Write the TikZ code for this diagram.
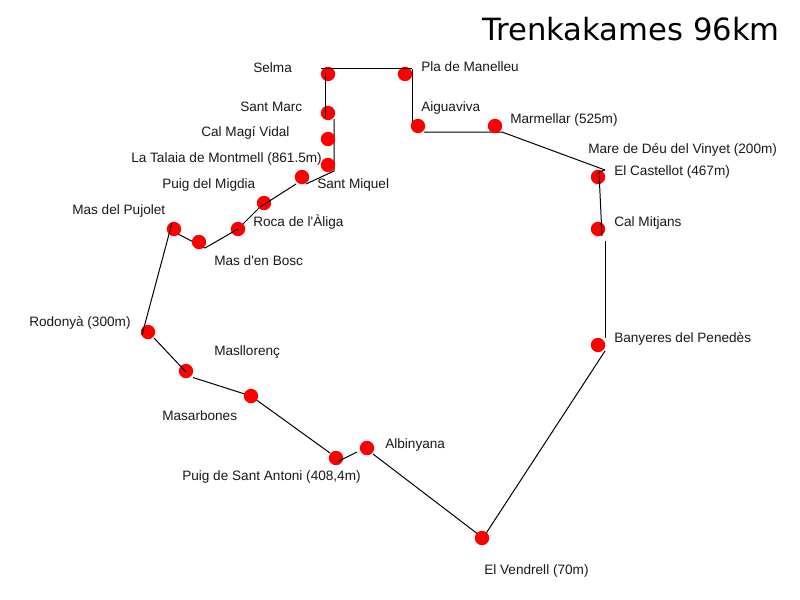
\documentclass[tikz,border=0pt]{standalone}
\usepackage{fontspec}
\newfontfamily\labfont{Liberation Sans}
\newfontfamily\titlefont{DejaVu Sans}
\begin{document}
\begin{tikzpicture}[x=0.75pt,y=-0.75pt,
  stop/.style={circle,fill=red,draw=none,minimum size=10.8pt,inner sep=0pt},
  lab/.style={anchor=base west,inner sep=0pt,font=\labfont\fontsize{10.2pt}{12pt}\selectfont,text=black!90},
  ttl/.style={anchor=base west,inner sep=0pt,font=\titlefont\fontsize{23pt}{27pt}\selectfont},
  seg/.style={draw=black,line width=0.75pt}]
\useasboundingbox (0,0) rectangle (800,600);
\fill[white] (0,0) rectangle (800,600);
% line vertices
\coordinate (a0) at (321,68.5);
\coordinate (a1) at (412,68.5);
\coordinate (a2) at (412,122);
\coordinate (b1) at (424,132);
\coordinate (b2) at (502,132);
\coordinate (b3) at (605,170);
\coordinate (b4) at (599,172);
\coordinate (b5) at (602,236);
\coordinate (c1) at (605.7,241);
\coordinate (c2) at (605.7,338);
\coordinate (c2b) at (605,351);
\coordinate (c3) at (483,538);
\coordinate (c4) at (373,454);
\coordinate (c5) at (357,452);
\coordinate (d0) at (337,462);
\coordinate (d1) at (330,453);
\coordinate (d2) at (251,396);
\coordinate (d3) at (193,377.5);
\coordinate (d4) at (186,372);
\coordinate (d5) at (154,338);
\coordinate (e0) at (142,335);
\coordinate (e1) at (172,223);
\coordinate (e2) at (178,234);
\coordinate (e3) at (205,248);
\coordinate (e5) at (238,229);
\coordinate (e6) at (260,207);
\coordinate (f0) at (296,184);
\coordinate (f1) at (306,184);
\coordinate (f2) at (334,171);
\coordinate (f3) at (334,119);
\coordinate (g0) at (325.5,118);
\coordinate (g1) at (325.5,73);
% segments below the stops
\draw[seg] (a1) -- (a2);
\draw[seg] (b1) -- (b2) -- (b3);
\draw[seg] (c1) -- (c2);
\draw[seg] (c2b) -- (c3) -- (c4);
\draw[seg] (d1) -- (d2) -- (d3);
\draw[seg] (e2) -- (e3);
\draw[seg] (e5) -- (e6);
\draw[seg] (f1) -- (f2) -- (f3);
% stops
\node[stop] (selma) at (328,74) {};
\node[stop] (pla) at (405,74) {};
\node[stop] (aigua) at (418,126) {};
\node[stop] (marm) at (495,126) {};
\node[stop] (caste) at (598,177) {};
\node[stop] (mitj) at (598,229) {};
\node[stop] (bany) at (598,345) {};
\node[stop] (vend) at (482,538) {};
\node[stop] (albi) at (367,448) {};
\node[stop] (anto) at (336,458) {};
\node[stop] (masa) at (251,396) {};
\node[stop] (mall) at (186,371) {};
\node[stop] (rodo) at (148,332) {};
\node[stop] (pujo) at (174,229) {};
\node[stop] (bosc) at (199,242) {};
\node[stop] (roca) at (238,229) {};
\node[stop] (migd) at (264,203) {};
\node[stop] (miqu) at (302,177) {};
\node[stop] (tala) at (328,165) {};
\node[stop] (magi) at (328,139) {};
\node[stop] (marc) at (328,113) {};
% segments over the stops
\draw[seg] (a0) -- (a1);
\draw[seg] (g1) -- (g0);
\draw[seg] (b3) -- (b4) -- (b5);
\draw[seg] (d0) -- (c5);
\draw[seg] (e1) -- (e0);
\draw[seg] (d4) -- (d5);
\draw[seg] (e3) -- (e5);
\draw[seg] (e6) -- (f0);
% labels
\node[lab] (lselma) at (253,72) {Selma};
\node[lab] (lpla) at (421,71) {Pla de Manelleu};
\node[lab] (lmarc) at (240,111) {Sant Marc};
\node[lab] (laigua) at (421,111) {Aiguaviva};
\node[lab] (lmarm) at (510,123) {Marmellar (525m)};
\node[lab] (lmagi) at (201,136) {Cal Magí Vidal};
\node[lab] (lmare) at (588,153) {Mare de Déu del Vinyet (200m)};
\node[lab] (ltala) at (131,162) {La Talaia de Montmell (861.5m)};
\node[lab] (lcaste) at (614,175) {El Castellot (467m)};
\node[lab] (lmigd) at (162,188) {Puig del Migdia};
\node[lab] (lmiqu) at (317,188) {Sant Miquel};
\node[lab] (lpujo) at (72,214) {Mas del Pujolet};
\node[lab] (lroca) at (253,226) {Roca de l'Àliga};
\node[lab] (lmitj) at (614,226) {Cal Mitjans};
\node[lab] (lbosc) at (214,265) {Mas d'en Bosc};
\node[lab] (lrodo) at (29,326) {Rodonyà (300m)};
\node[lab] (lbany) at (614,342) {Banyeres del Penedès};
\node[lab] (lmall) at (214,355) {Masllorenç};
\node[lab] (lmasa) at (162,420) {Masarbones};
\node[lab] (lalbi) at (385,448) {Albinyana};
\node[lab] (lanto) at (182,480) {Puig de Sant Antoni (408,4m)};
\node[lab] (lvend) at (484,574) {El Vendrell (70m)};
\node[ttl] (title) at (482,40.5) {Trenkakames 96km};
\end{tikzpicture}
\end{document}
